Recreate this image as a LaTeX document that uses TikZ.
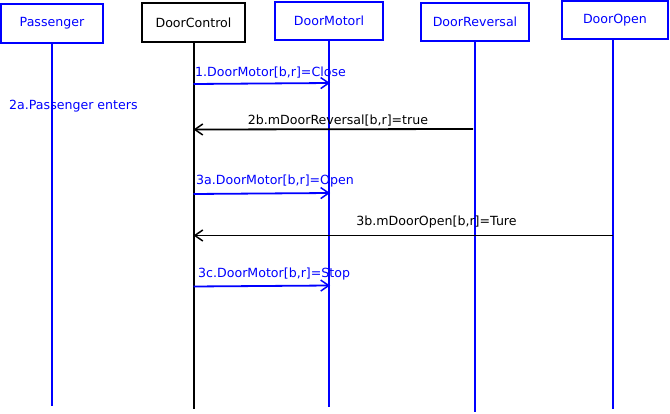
\documentclass[tikz,border=0pt]{standalone}
\usepackage{fontspec}
\setmainfont{DejaVu Sans}
\usetikzlibrary{arrows.meta}
\definecolor{lb}{RGB}{0,0,255}
\tikzset{
  obj/.style={draw=lb, line width=2pt, text=lb, minimum width=102pt, minimum height=38pt, inner sep=0pt, font=\fontsize{12.6}{14}\selectfont},
  objk/.style={obj, draw=black, text=black},
  life/.style={draw=lb, line width=2pt},
  lifek/.style={life, draw=black},
  msg/.style={draw=lb, line width=1.8pt, -{Straight Barb[length=8pt,width=11pt,line width=1.5pt]}},
  msgk/.style={msg, draw=black},
  lbl/.style={text=lb, inner sep=0pt, font=\fontsize{12.6}{14}\selectfont},
  lblk/.style={lbl, text=black}
}
\begin{document}
\begin{tikzpicture}[x=1pt,y=-1pt]
\useasboundingbox (0,0) rectangle (670,414);
\node[obj, minimum width=102pt, minimum height=39pt] (pas) at (52,23.5) {Passenger};
\node[objk, minimum width=103pt, minimum height=39pt] (dc) at (193.5,22.5) {DoorControl};
\node[obj, minimum width=108pt, minimum height=38pt] (dm) at (329,21) {DoorMotorl};
\node[obj, minimum width=108pt, minimum height=38pt] (dr) at (475,22) {DoorReversal};
\node[obj, minimum width=106pt, minimum height=38pt] (do) at (615,20) {DoorOpen};

\coordinate (pasE) at (52,406);
\coordinate (dcE) at (193.5,409);
\coordinate (dmE) at (329,407);
\coordinate (drE) at (475,412);
\coordinate (doE) at (613,409);

\draw[life] (pas.south) -- (pasE);
\draw[lifek] (dc.south) -- (dcE);
\draw[life] (dm.south) -- (dmE);
\draw[life] (dr.south) -- (drE);
\draw[life] (do.south -| doE) -- (doE);

\coordinate (a1) at (193.5,84);  \coordinate (b1) at (330,83);
\coordinate (a2) at (473,129); \coordinate (b2) at (193.5,129.5);
\coordinate (a3) at (193.5,194); \coordinate (b3) at (330,193);
\coordinate (a4) at (613,235.5); \coordinate (b4) at (193.5,235.5);
\coordinate (a5) at (193.5,286.5); \coordinate (b5) at (330,285.5);

\draw[msg] (a1) -- (b1);
\draw[msgk] (a2) -- (b2);
\draw[msg] (a3) -- (b3);
\draw[msgk] (a4) -- (b4);
\draw[msg] (a5) -- (b5);

\node[lbl, anchor=west] (l1) at (195,73) {1.DoorMotor[b,r]=Close};
\node[lbl, anchor=west] (l2a) at (9,106) {2a.Passenger enters};
\node[lblk] (l2b) at (338,121) {2b.mDoorReversal[b,r]=true};
\node[lbl, anchor=west] (l3a) at (196,181.5) {3a.DoorMotor[b,r]=Open};
\node[lblk] (l3b) at (436.5,222) {3b.mDoorOpen[b,r]=Ture};
\node[lbl, anchor=west] (l3c) at (198,274.5) {3c.DoorMotor[b,r]=Stop};
\end{tikzpicture}
\end{document}
